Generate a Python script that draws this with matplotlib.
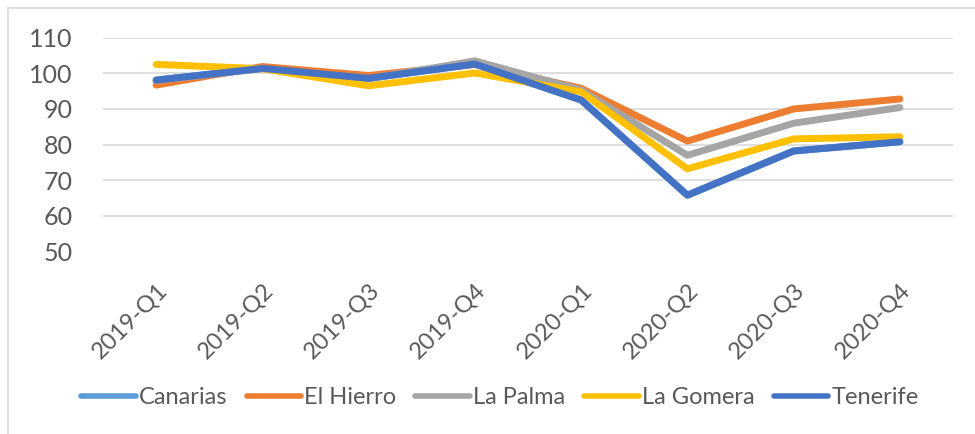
import numpy as np
import matplotlib
matplotlib.use("Agg")
import matplotlib.pyplot as plt
from matplotlib.patches import Rectangle

plt.rcParams['font.family'] = ['Lato', 'DejaVu Sans']

quarters = ['2019-Q1', '2019-Q2', '2019-Q3', '2019-Q4',
            '2020-Q1', '2020-Q2', '2020-Q3', '2020-Q4']

# index values (Canarias is hidden under Tenerife)
canarias = [98.1, 101.4, 98.6, 102.6, 92.5, 65.8, 78.2, 80.8]
el_hierro = [96.7, 101.9, 99.4, 102.5, 95.8, 81.0, 90.0, 92.8]
la_palma = [98.0, 101.3, 98.5, 103.5, 95.3, 77.0, 86.0, 90.4]
la_gomera = [102.5, 101.3, 96.5, 100.1, 94.8, 73.2, 81.6, 82.2]
tenerife = [98.1, 101.4, 98.6, 102.6, 92.5, 65.8, 78.2, 80.8]

series = [
    ('Canarias', canarias, '#5B9BD5'),
    ('El Hierro', el_hierro, '#ED7D31'),
    ('La Palma', la_palma, '#A5A5A5'),
    ('La Gomera', la_gomera, '#FFC000'),
    ('Tenerife', tenerife, '#4472C4'),
]

text_col = '#595959'

fig = plt.figure(figsize=(9.75, 4.34), dpi=100)
ax = fig.add_axes([103 / 975, 1 - 251.5 / 434, 850 / 975, (251.5 - 37.7) / 434])

x = np.arange(len(quarters))
for name, vals, col in series:
    ax.plot(x, vals, color=col, linewidth=5, solid_capstyle='round',
            solid_joinstyle='round', label=name)

ax.set_xlim(-0.5, len(quarters) - 0.5)
ax.set_ylim(50, 110)
ax.set_yticks(np.arange(50, 111, 10))
ax.set_xticks(x)
ax.set_xticklabels(quarters, rotation=45, ha='right', rotation_mode='anchor')
ax.tick_params(axis='both', length=0, labelcolor=text_col)
ax.tick_params(axis='y', pad=22, labelsize=18)
ax.tick_params(axis='x', pad=20, labelsize=17)
ax.grid(axis='y', color='#D9D9D9', linewidth=1.2)
ax.set_axisbelow(True)
for sp in ax.spines.values():
    sp.set_visible(False)

leg = fig.legend(loc='center', bbox_to_anchor=(500 / 975, 1 - 398 / 434), ncol=5,
                 frameon=False, fontsize=17, handlelength=2.3, handletextpad=0.15,
                 columnspacing=0.8)
for t in leg.get_texts():
    t.set_color(text_col)
for h in leg.get_lines():
    h.set_linewidth(4)

# chart area border
fig.patches.append(Rectangle((8 / 975, -0.05), 1.2, 1 - 8 / 434 + 0.05,
                             transform=fig.transFigure, fill=False,
                             edgecolor='#D9D9D9', linewidth=1.2))

fig.savefig('out.png', dpi=100)
